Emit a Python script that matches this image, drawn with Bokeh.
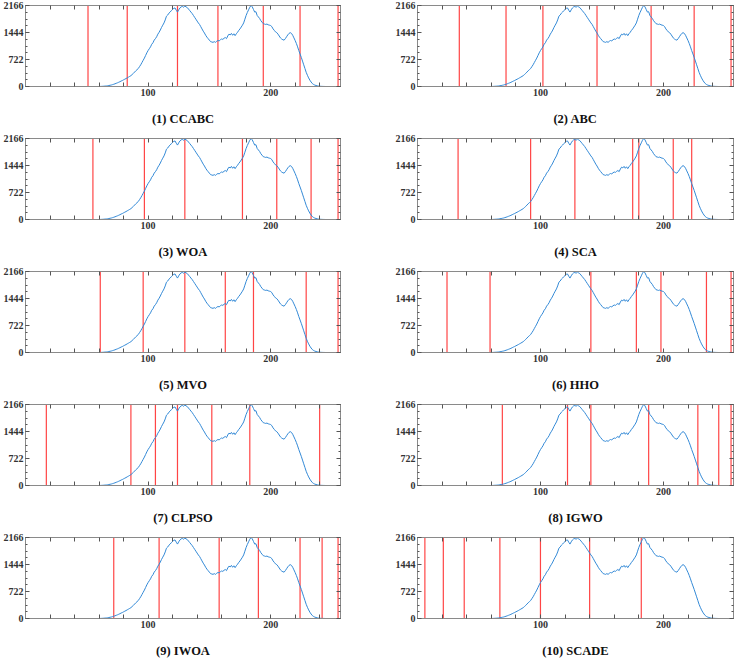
from bokeh.plotting import figure
from bokeh.models import Range1d, FixedTicker, LinearAxis
from bokeh.layouts import column, row
from bokeh.embed import file_html
from bokeh.resources import INLINE

# ---------------- data ----------------
gray_levels = list(range(256))

hist_counts = (
    [0] * 61 +
    [2, 4, 6, 8, 12, 15, 20, 26, 33, 40,            # 61-70
     50, 60, 72, 85, 98, 112, 128, 145, 160, 178,    # 71-80
     195, 212, 232, 250, 270, 290, 320, 350, 385, 420,  # 81-90
     450, 480, 530, 580, 640, 700, 760, 830, 900, 960,  # 91-100
     1010, 1060, 1130, 1170, 1240, 1280, 1330, 1400, 1450, 1510,  # 101-110
     1580, 1640, 1700, 1780, 1880, 1910, 1960, 1990, 2030, 2060,  # 111-120
     2090, 2100, 2040, 1990, 2050, 2100, 2130, 2140, 2120, 2150,  # 121-130
     2130, 2110, 2070, 2030, 1990, 1950, 1900, 1850, 1800, 1750,  # 131-140
     1700, 1660, 1600, 1540, 1480, 1430, 1370, 1320, 1280, 1240,  # 141-150
     1200, 1190, 1180, 1200, 1180, 1210, 1230, 1220, 1250, 1270,  # 151-160
     1260, 1290, 1310, 1280, 1350, 1400, 1380, 1420, 1370, 1410,  # 161-170
     1360, 1410, 1450, 1500, 1540, 1590, 1640, 1700, 1800, 1900,  # 171-180
     1980, 2050, 2120, 2166, 2130, 2060, 1990, 2000, 1900, 1860,  # 181-190
     1820, 1760, 1720, 1680, 1670, 1660, 1670, 1650, 1640, 1630,  # 191-200
     1600, 1540, 1500, 1460, 1440, 1400, 1350, 1300, 1270, 1250,  # 201-210
     1240, 1280, 1330, 1380, 1420, 1440, 1420, 1370, 1300, 1230,  # 211-220
     1150, 1060, 960, 870, 780, 680, 580, 480, 380, 300,          # 221-230
     230, 170, 120, 80, 55, 38, 27, 18, 12, 8,                    # 231-240
     5, 3, 2, 1] +
    [0] * 11
)

titles = ["(1) CCABC", "(2) ABC", "(3) WOA", "(4) SCA", "(5) MVO",
          "(6) HHO", "(7) CLPSO", "(8) IGWO", "(9) IWOA", "(10) SCADE"]

thresholds = [
    [51, 83, 124, 157, 194, 224, 255],   # CCABC
    [34, 72, 102, 146, 190, 225, 255],   # ABC
    [55, 97, 130, 177, 205, 233, 255],   # WOA
    [33, 92, 128, 175, 180, 208, 223],   # SCA
    [61, 96, 130, 163, 186, 229, 255],   # MVO
    [24, 59, 141, 178, 198, 235, 255],   # HHO
    [17, 86, 106, 124, 152, 183, 240],   # CLPSO
    [69, 122, 141, 188, 228, 245, 255],  # IGWO
    [72, 109, 158, 190, 224, 242, 255],  # IWOA
    [6, 21, 38, 67, 100, 140, 182],      # SCADE
]

y_ticks = [0, 722, 1444, 2166]
x_labeled = [100, 200]
x_small_ticks = [20, 40, 60, 80, 120, 140, 160, 180, 220, 240]
x_max = 257

# ---------------- styling ----------------
FONT = "Liberation Serif"
FRAME = "#8a8a8a"
TICK = "#555555"
CURVE = "#3389d6"
RED = "#ff2b2b"

y_minor = [y_ticks[0] + i * (y_ticks[1] - y_ticks[0]) / 4 for i in range(13)]


def style_axis(ax, show_labels=True, minor_len=2):
    ax.axis_line_color = FRAME
    ax.major_tick_line_color = TICK
    ax.minor_tick_line_color = TICK
    ax.major_tick_in = 4
    ax.major_tick_out = 0
    ax.minor_tick_in = minor_len
    ax.minor_tick_out = 0
    ax.major_label_text_font = FONT
    ax.major_label_text_font_style = "bold"
    if show_labels:
        ax.major_label_text_color = "#333333"
        ax.major_label_text_font_size = "10px"
        ax.major_label_standoff = 2
    else:
        ax.major_label_text_color = None
        ax.major_label_text_font_size = "1px"
        ax.major_label_standoff = 0


def x_ticker():
    return FixedTicker(ticks=x_labeled, minor_ticks=x_small_ticks)


def y_ticker():
    return FixedTicker(ticks=y_ticks, minor_ticks=y_minor)


plots = []
for i, (title, th) in enumerate(zip(titles, thresholds)):
    left_col = (i % 2 == 0)
    p = figure(frame_width=315 if left_col else 316, frame_height=81,
               output_backend="svg", toolbar_location=None,
               x_range=Range1d(0, x_max), y_range=Range1d(0, y_ticks[-1]),
               min_border_left=23 if left_col else 59,
               min_border_right=18 if left_col else 3,
               min_border_top=5, min_border_bottom=47)
    p.grid.visible = False
    p.outline_line_color = FRAME
    p.background_fill_color = "white"

    p.segment(x0=th, y0=[0] * len(th), x1=th, y1=[y_ticks[-1]] * len(th),
              line_color=RED, line_width=1.2, line_alpha=0.88)
    p.line(gray_levels, hist_counts, line_color=CURVE, line_width=1.0)

    p.xaxis.ticker = x_ticker()
    p.yaxis.ticker = y_ticker()
    for ax in p.xaxis:
        style_axis(ax, minor_len=4)
    for ax in p.yaxis:
        style_axis(ax)
    p.xaxis.axis_label = title
    p.xaxis.axis_label_text_font = FONT
    p.xaxis.axis_label_text_font_style = "bold"
    p.xaxis.axis_label_text_font_size = "12.5px"
    p.xaxis.axis_label_text_color = "#111111"
    p.xaxis.axis_label_standoff = 13

    top = LinearAxis(ticker=x_ticker())
    style_axis(top, show_labels=False, minor_len=4)
    right = LinearAxis(ticker=y_ticker())
    style_axis(right, show_labels=False)
    p.add_layout(top, "above")
    p.add_layout(right, "right")

    plots.append(p)

layout = column(*[row(plots[k], plots[k + 1]) for k in range(0, len(plots), 2)],
                spacing=0)

open("out.html", "w").write(file_html(layout, INLINE))
